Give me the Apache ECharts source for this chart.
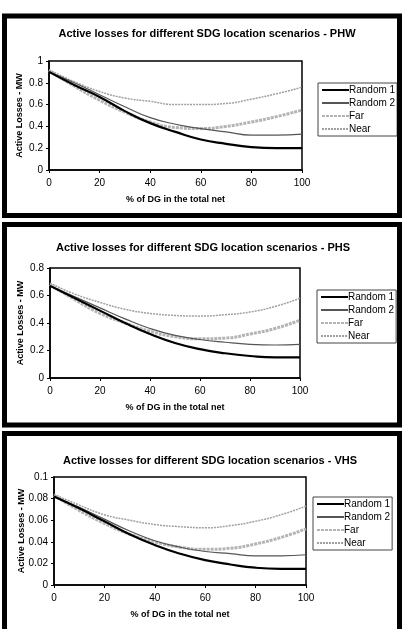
<!DOCTYPE html>
<html>
<head>
<meta charset="utf-8">
<script src="https://cdn.jsdelivr.net/npm/echarts@6/dist/echarts.min.js"></script>
<style>
  html, body { margin: 0; padding: 0; background: #fff; }
  #main { width: 405px; height: 629px; }
</style>
</head>
<body>
<div id="main"></div>
<script>
// % of DG in the total net
const pct = [0, 10, 20, 30, 40, 50, 60, 70, 80, 90, 100];
const names = ['Random 1', 'Random 2', 'Far', 'Near'];

// PHW
const phwRandom1 = [0.90, 0.78, 0.67, 0.54, 0.43, 0.35, 0.28, 0.24, 0.21, 0.20, 0.20];
const phwRandom2 = [0.90, 0.80, 0.69, 0.58, 0.48, 0.42, 0.38, 0.35, 0.32, 0.32, 0.33];
const phwFar     = [0.91, 0.77, 0.64, 0.53, 0.44, 0.39, 0.38, 0.40, 0.44, 0.49, 0.55];
const phwNear    = [0.92, 0.81, 0.72, 0.66, 0.63, 0.60, 0.60, 0.61, 0.65, 0.70, 0.76];

// PHS
const phsRandom1 = [0.67, 0.58, 0.49, 0.40, 0.32, 0.255, 0.21, 0.18, 0.16, 0.15, 0.15];
const phsRandom2 = [0.67, 0.59, 0.51, 0.43, 0.36, 0.31, 0.28, 0.26, 0.245, 0.24, 0.245];
const phsFar     = [0.68, 0.57, 0.47, 0.40, 0.34, 0.30, 0.285, 0.29, 0.32, 0.36, 0.42];
const phsNear    = [0.69, 0.61, 0.55, 0.50, 0.47, 0.455, 0.45, 0.46, 0.48, 0.52, 0.58];

// VHS
const vhsRandom1 = [0.082, 0.071, 0.059, 0.047, 0.037, 0.029, 0.023, 0.019, 0.016, 0.015, 0.015];
const vhsRandom2 = [0.082, 0.072, 0.061, 0.050, 0.041, 0.035, 0.031, 0.029, 0.027, 0.027, 0.028];
const vhsFar     = [0.083, 0.069, 0.057, 0.047, 0.040, 0.035, 0.033, 0.034, 0.038, 0.044, 0.052];
const vhsNear    = [0.084, 0.074, 0.065, 0.060, 0.056, 0.054, 0.053, 0.055, 0.059, 0.065, 0.073];

const panels = [
  { title: 'Active losses for different SDG location scenarios - PHW', yMax: 1, yStep: 0.2,
    data: [phwRandom1, phwRandom2, phwFar, phwNear], yNameGap: 25,
    grid: { left: 49, top: 61, width: 253, height: 109 }, titleX: 202, titleY: 23,
    legend: { left: 318, top: 83 }, box: { y: 16, h: 199.5 } },
  { title: 'Active losses for different SDG location scenarios - PHS', yMax: 0.8, yStep: 0.2,
    data: [phsRandom1, phsRandom2, phsFar, phsNear], yNameGap: 25,
    grid: { left: 50, top: 268, width: 250, height: 110 }, titleX: 198, titleY: 237,
    legend: { left: 317, top: 290 }, box: { y: 224.5, h: 200.5 } },
  { title: 'Active losses for different SDG location scenarios - VHS', yMax: 0.1, yStep: 0.02,
    data: [vhsRandom1, vhsRandom2, vhsFar, vhsNear], yNameGap: 28,
    grid: { left: 54, top: 477, width: 252, height: 108 }, titleX: 205, titleY: 450,
    legend: { left: 313, top: 497 }, box: { y: 433.5, h: 200 } },
];

const lineStyles = [
  { color: '#000', width: 2.2, type: 'solid' },
  { color: '#555', width: 1.2, type: 'solid' },
  { color: '#b4b4b4', width: 3, type: [3, 1] },
  { color: '#a0a0a0', width: 1.5, type: [2, 1] },
];

const font = 'Liberation Sans, Arial, sans-serif';

const option = {
  backgroundColor: '#fff',
  animation: false,
  title: [], grid: [], xAxis: [], yAxis: [], legend: [], series: [], graphic: [],
};

panels.forEach((p, i) => {
  option.title.push({
    text: p.title, left: p.titleX, top: p.titleY, textAlign: 'center',
    textStyle: { fontFamily: font, fontSize: 11, fontWeight: 'bold', color: '#000' },
  });
  option.grid.push(Object.assign({ show: true, borderColor: '#000', borderWidth: 1.5, backgroundColor: '#fff' }, p.grid));
  option.xAxis.push({
    gridIndex: i, type: 'value', min: 0, max: 100, interval: 20,
    name: '% of DG in the total net', nameLocation: 'middle', nameGap: 25,
    nameTextStyle: { fontFamily: font, fontSize: 9, fontWeight: 'bold', color: '#000' },
    axisLine: { lineStyle: { color: '#000', width: 1.5 } },
    axisTick: { show: true, length: 3, lineStyle: { color: '#000' } },
    axisLabel: { fontFamily: font, fontSize: 10, color: '#000', margin: 8 },
    splitLine: { show: false },
  });
  option.yAxis.push({
    gridIndex: i, type: 'value', min: 0, max: p.yMax, interval: p.yStep,
    name: 'Active Losses - MW', nameLocation: 'middle', nameGap: p.yNameGap, nameMoveOverlap: false,
    nameTextStyle: { fontFamily: font, fontSize: 9, fontWeight: 'bold', color: '#000' },
    axisLine: { show: true, lineStyle: { color: '#000', width: 1.5 } },
    axisTick: { show: true, length: 3, lineStyle: { color: '#000' } },
    axisLabel: { fontFamily: font, fontSize: 10, color: '#000', margin: 6 },
    splitLine: { show: false },
  });
  option.legend.push({
    data: names, orient: 'vertical', left: p.legend.left, top: p.legend.top,
    itemWidth: 27, itemHeight: 12, itemGap: 3, padding: [2, 2, 2, 3],
    itemStyle: { opacity: 0 },
    borderColor: '#444', borderWidth: 1, backgroundColor: '#fff',
    textStyle: { fontFamily: font, fontSize: 10, color: '#000', padding: [0, 0, 0, -5] },
  });
  p.data.forEach((vals, k) => {
    option.series.push({
      name: names[k], type: 'line', xAxisIndex: i, yAxisIndex: i,
      smooth: true, symbol: 'none',
      lineStyle: lineStyles[k],
      itemStyle: { color: lineStyles[k].color },
      data: pct.map((x, j) => [x, vals[j]]),
      z: 10 - k,
    });
  });
  option.graphic.push({
    type: 'rect', shape: { x: 4.5, y: p.box.y, width: 395, height: p.box.h },
    style: { fill: null, stroke: '#000', lineWidth: 5 }, silent: true, z: 100,
  });
});

const myChart = echarts.init(document.getElementById('main'));
myChart.setOption(option);
</script>
</body>
</html>
